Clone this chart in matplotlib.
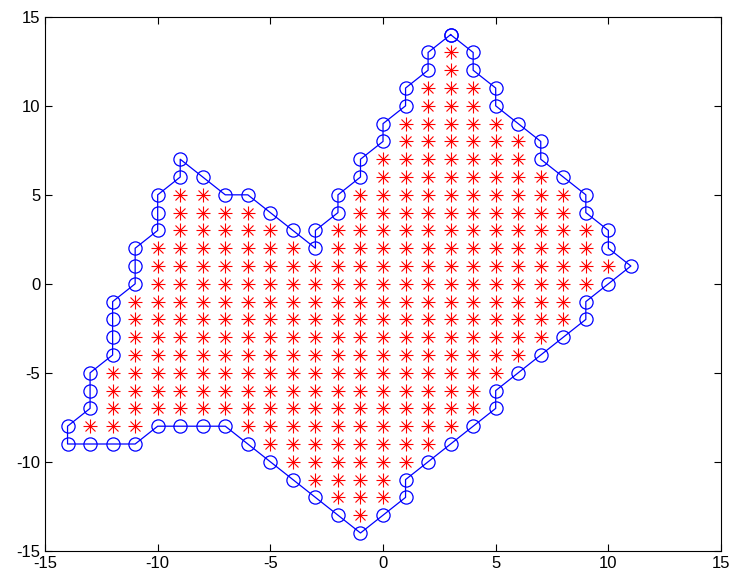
import numpy as np
import matplotlib
matplotlib.use("Agg")
import matplotlib.pyplot as plt

# Boundary polygon vertices (closed)
boundary_x = [3, 2, 2, 1, 1, 0, 0, -1, -1, -2, -2, -3, -3, -4, -5, -6, -7, -8, -9, -9,
              -10, -10, -10, -11, -11, -11, -12, -12, -12, -12, -13, -13, -13, -14, -14,
              -13, -12, -11, -10, -9, -8, -7, -6, -5, -4, -3, -2, -1, 0, 1, 1, 2, 3, 4,
              5, 5, 6, 7, 8, 9, 9, 10, 11, 10, 10, 9, 9, 8, 7, 7, 6, 5, 5, 4, 4, 3]
boundary_y = [14, 13, 12, 11, 10, 9, 8, 7, 6, 5, 4, 3, 2, 3, 4, 5, 5, 6, 7, 6,
              5, 4, 3, 2, 1, 0, -1, -2, -3, -4, -5, -6, -7, -8, -9,
              -9, -9, -9, -8, -8, -8, -8, -9, -10, -11, -12, -13, -14, -13, -12, -11, -10, -9, -8,
              -7, -6, -5, -4, -3, -2, -1, 0, 1, 2, 3, 4, 5, 6, 7, 8, 9, 10, 11, 12, 13, 14]

# Interior points, given as row segments: y, first x, last x
seg_y  = [13, 12, 11, 10, 9, 8, 7, 6, 5, 5, 4, 4, 3, 3, 2, 2, 1, 0, -1, -2, -3, -4,
          -5, -6, -7, -8, -8, -9, -10, -11, -12, -13]
seg_x0 = [3, 3, 2, 2, 1, 1, 0, 0, -9, -1, -9, -1, -9, -2, -10, -2, -10, -10, -11, -11, -11, -11,
          -12, -12, -12, -13, -6, -5, -4, -3, -2, -1]
seg_x1 = [3, 3, 4, 4, 5, 6, 6, 7, -8, 8, -6, 8, -5, 9, -4, 9, 10, 9, 8, 8, 7, 6,
          5, 4, 4, -11, 3, 2, 1, 0, 0, -1]

xticks = [-15, -10, -5, 0, 5, 10, 15]
yticks = [-15, -10, -5, 0, 5, 10, 15]

plt.rcParams['font.family'] = ['Liberation Sans', 'DejaVu Sans']
plt.rcParams['axes.unicode_minus'] = False

fig = plt.figure(figsize=(7.38, 5.81), dpi=100)
ax = fig.add_axes([0.061, 0.052, 0.916, 0.919])

px, py = [], []
for y, a, b in zip(seg_y, seg_x0, seg_x1):
    for x in range(a, b + 1):
        px.append(x)
        py.append(y)

ax.plot(px, py, linestyle='none', marker='+', color='red', markersize=10, markeredgewidth=0.8)
ax.plot(px, py, linestyle='none', marker='x', color='red', markersize=7, markeredgewidth=0.8)

ax.plot(boundary_x, boundary_y, '-o', color='blue', markerfacecolor='none',
        markersize=9.5, linewidth=0.9, markeredgewidth=0.9)

ax.set_xlim(-15, 15)
ax.set_ylim(-15, 15)
ax.set_xticks(xticks)
ax.set_yticks(yticks)
ax.tick_params(direction='in', top=True, right=True, length=5, width=0.8, labelsize=12)
for s in ax.spines.values():
    s.set_linewidth(0.8)

fig.savefig('out.png', dpi=100)
